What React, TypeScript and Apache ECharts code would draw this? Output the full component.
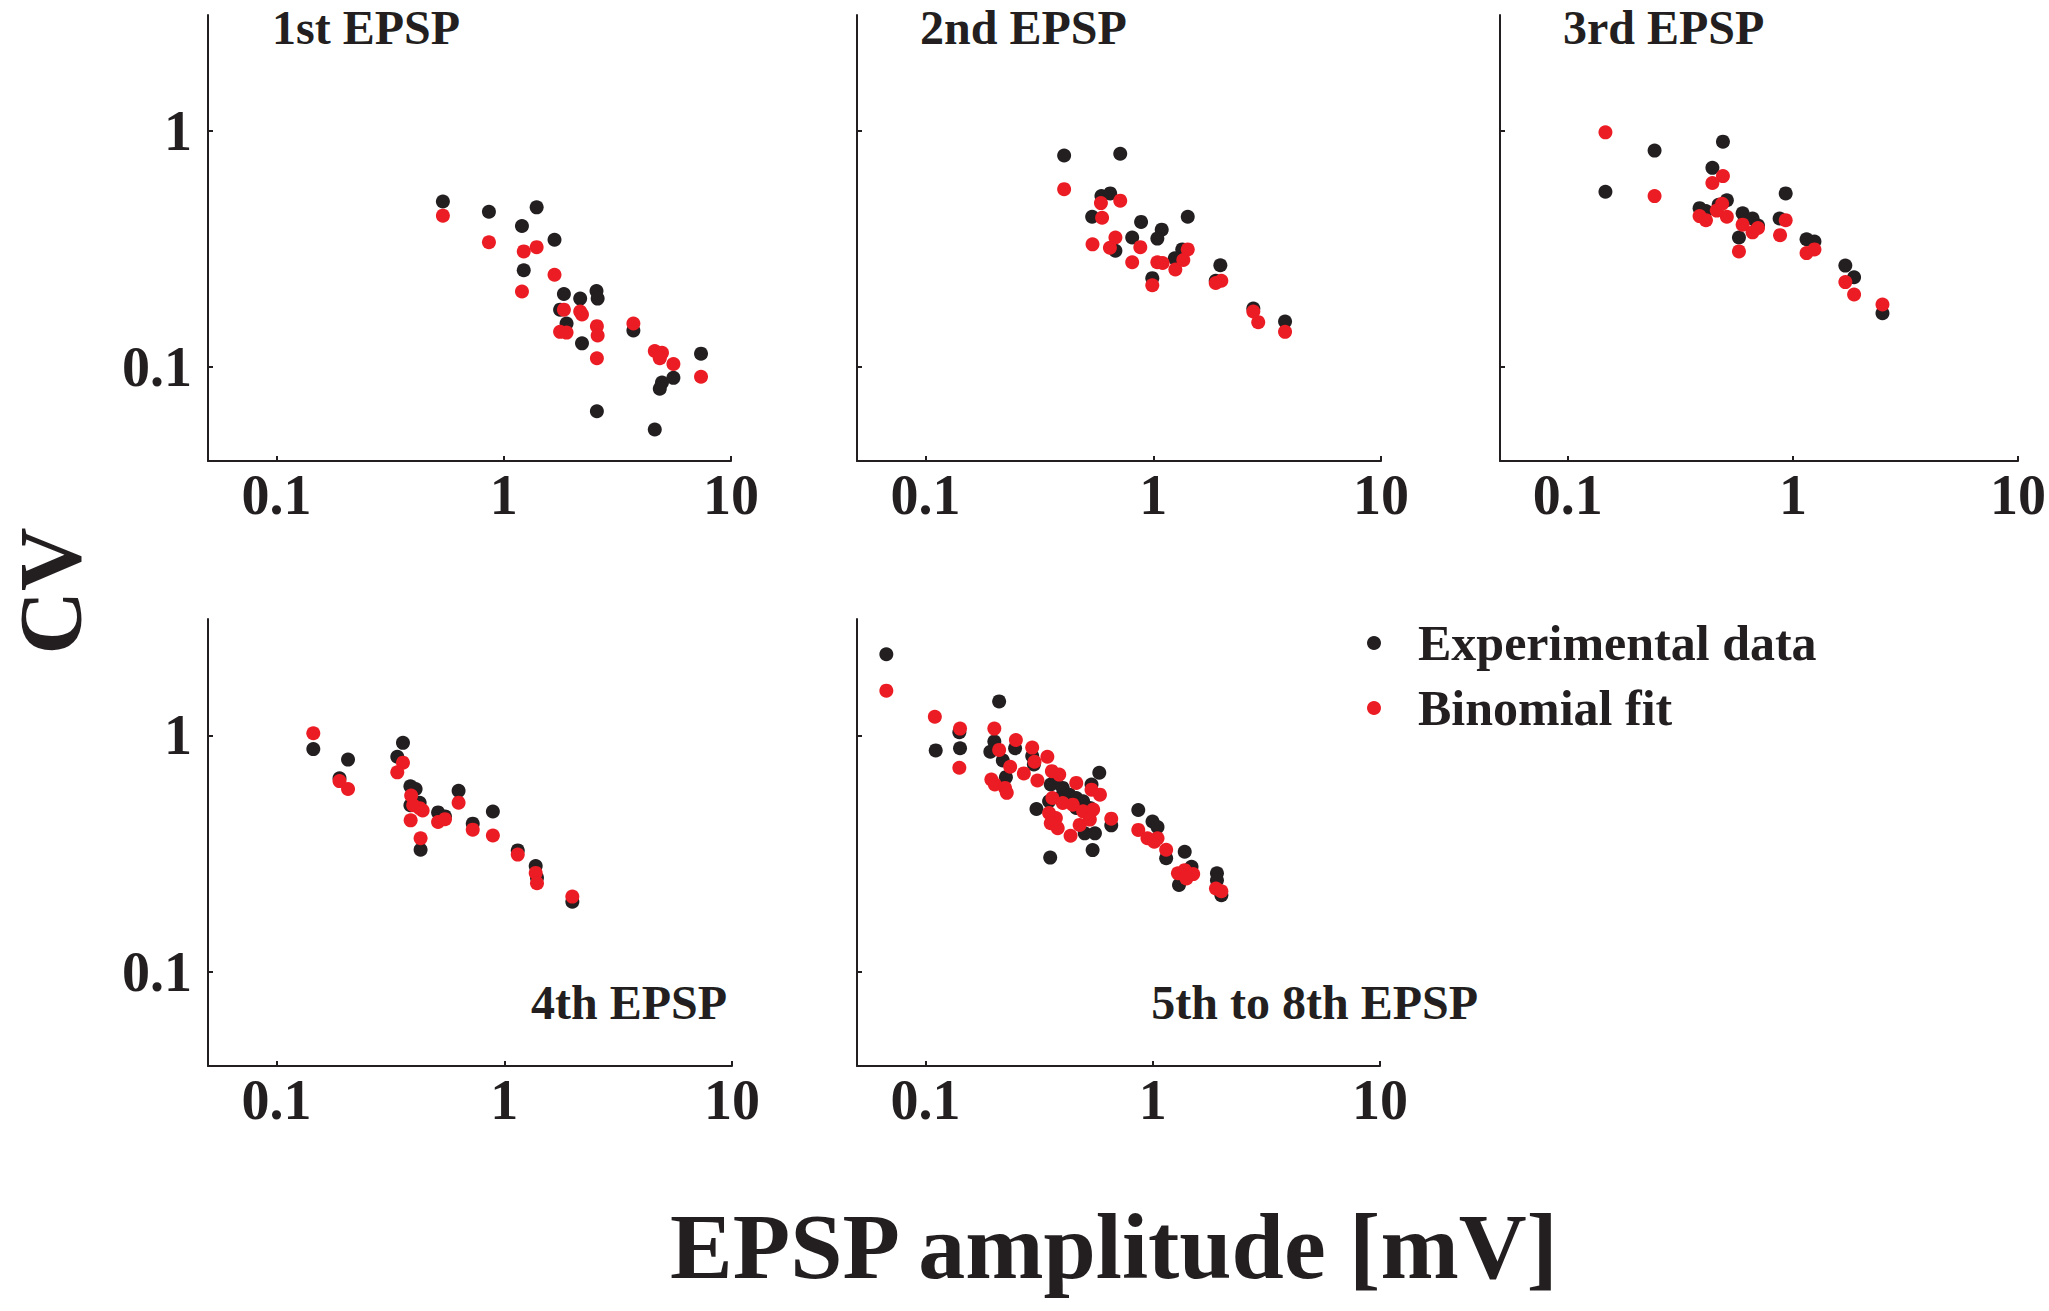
import React, { useEffect, useRef } from "react";
import * as echarts from "echarts";

const FONT = '"Liberation Serif", "Times New Roman", serif';
const INK = "#231f20";
const RED = "#ec1c24";

const SERIES_NAMES = ["Experimental data", "Binomial fit"];
const PANEL_TITLES = ["1st EPSP", "2nd EPSP", "3rd EPSP", "4th EPSP", "5th to 8th EPSP"];
const X_TICKS = [0.1, 1, 10];
const Y_TICKS = [0.1, 1];

// [EPSP amplitude (mV), CV]
const epsp1Exp = [
  [0.54, 0.503], [0.861, 0.455], [1.396, 0.475], [1.203, 0.396], [1.673, 0.346],
  [1.225, 0.257], [1.84, 0.204], [2.17, 0.195], [2.56, 0.21], [2.59, 0.195],
  [1.77, 0.175], [1.89, 0.153], [2.21, 0.126], [3.72, 0.143], [2.57, 0.065],
  [4.62, 0.0544], [4.97, 0.086], [4.86, 0.081], [5.58, 0.09], [7.38, 0.114],
];
const epsp1Fit = [
  [0.54, 0.438], [0.861, 0.338], [1.225, 0.309], [1.396, 0.322], [1.673, 0.246],
  [1.203, 0.209], [1.84, 0.175], [2.17, 0.172], [2.21, 0.167], [1.77, 0.141],
  [1.89, 0.14], [2.57, 0.149], [2.59, 0.136], [2.57, 0.109], [3.72, 0.153],
  [4.62, 0.117], [4.97, 0.115], [4.86, 0.109], [5.58, 0.103], [7.38, 0.091],
];

const epsp2Exp = [
  [0.406, 0.787], [0.716, 0.801], [0.592, 0.53], [0.647, 0.544], [0.539, 0.433],
  [0.884, 0.412], [1.417, 0.433], [1.089, 0.382], [1.042, 0.35], [0.808, 0.354],
  [0.682, 0.311], [1.34, 0.315], [1.243, 0.289], [0.99, 0.238], [1.97, 0.27],
  [1.88, 0.232], [2.75, 0.177], [3.79, 0.156],
];
const epsp2Fit = [
  [0.406, 0.567], [0.589, 0.495], [0.716, 0.507], [0.596, 0.429], [0.541, 0.331],
  [0.682, 0.354], [0.645, 0.32], [0.877, 0.322], [0.808, 0.278], [1.042, 0.278],
  [1.099, 0.276], [1.417, 0.315], [1.355, 0.284], [1.25, 0.259], [0.99, 0.222],
  [1.88, 0.227], [1.99, 0.232], [2.75, 0.172], [2.89, 0.155], [3.79, 0.141],
];

const epsp3Exp = [
  [0.147, 0.553], [0.243, 0.826], [0.489, 0.901], [0.439, 0.698], [0.385, 0.471],
  [0.411, 0.458], [0.468, 0.487], [0.509, 0.509], [0.598, 0.448], [0.662, 0.426],
  [0.7, 0.398], [0.576, 0.354], [0.929, 0.544], [0.873, 0.426], [1.15, 0.348],
  [1.247, 0.34], [1.71, 0.269], [1.87, 0.24], [2.5, 0.169],
];
const epsp3Fit = [
  [0.147, 0.987], [0.243, 0.53], [0.489, 0.644], [0.439, 0.602], [0.385, 0.436],
  [0.411, 0.419], [0.459, 0.46], [0.485, 0.492], [0.509, 0.433], [0.598, 0.401],
  [0.662, 0.372], [0.7, 0.388], [0.576, 0.309], [0.929, 0.419], [0.877, 0.362],
  [1.15, 0.304], [1.247, 0.315], [1.71, 0.229], [1.87, 0.203], [2.5, 0.184],
];

const epsp4Exp = [
  [0.145, 0.874], [0.206, 0.789], [0.189, 0.658], [0.359, 0.929], [0.339, 0.811],
  [0.387, 0.609], [0.408, 0.593], [0.387, 0.506], [0.425, 0.518], [0.429, 0.328],
  [0.512, 0.472], [0.549, 0.454], [0.63, 0.582], [0.727, 0.423], [0.891, 0.476],
  [1.146, 0.326], [1.374, 0.28], [1.392, 0.25], [1.99, 0.198],
];
const epsp4Fit = [
  [0.145, 1.02], [0.189, 0.64], [0.206, 0.593], [0.359, 0.766], [0.339, 0.697],
  [0.39, 0.556], [0.398, 0.506], [0.425, 0.492], [0.438, 0.481], [0.388, 0.437],
  [0.429, 0.367], [0.512, 0.43], [0.549, 0.442], [0.63, 0.519], [0.727, 0.399],
  [0.891, 0.377], [1.146, 0.313], [1.374, 0.262], [1.392, 0.237], [1.99, 0.208],
];

const epsp5Exp = [
  [0.0673, 2.2], [0.111, 0.863], [0.142, 0.881], [0.141, 1.03], [0.211, 1.39],
  [0.201, 0.94], [0.193, 0.852], [0.219, 0.783], [0.226, 0.665], [0.248, 0.881],
  [0.295, 0.817], [0.3, 0.753], [0.308, 0.488], [0.354, 0.304], [0.356, 0.619],
  [0.375, 0.661], [0.402, 0.599], [0.43, 0.561], [0.461, 0.543], [0.494, 0.526],
  [0.538, 0.619], [0.582, 0.694], [0.529, 0.493], [0.502, 0.385], [0.557, 0.385],
  [0.544, 0.327], [0.657, 0.416], [0.864, 0.483], [0.998, 0.432], [1.05, 0.409],
  [1.146, 0.302], [1.383, 0.322], [1.305, 0.233], [1.482, 0.278], [1.917, 0.261],
  [1.917, 0.244], [2.005, 0.211], [0.35, 0.526], [0.388, 0.543], [0.461, 0.493],
];
const epsp5Fit = [
  [0.0673, 1.543], [0.11, 1.197], [0.142, 1.067], [0.141, 0.729], [0.201, 1.067],
  [0.211, 0.867], [0.236, 0.736], [0.195, 0.65], [0.202, 0.619], [0.224, 0.599],
  [0.228, 0.571], [0.25, 0.955], [0.271, 0.69], [0.295, 0.887], [0.302, 0.773],
  [0.311, 0.644], [0.344, 0.811], [0.36, 0.705], [0.388, 0.682], [0.461, 0.629],
  [0.538, 0.589], [0.586, 0.561], [0.362, 0.543], [0.402, 0.517], [0.445, 0.509],
  [0.494, 0.477], [0.547, 0.485], [0.35, 0.469], [0.375, 0.447], [0.356, 0.425],
  [0.382, 0.405], [0.435, 0.376], [0.477, 0.418], [0.529, 0.44], [0.657, 0.444],
  [0.864, 0.398], [0.948, 0.367], [1.016, 0.355], [1.05, 0.367], [1.146, 0.328],
  [1.291, 0.261], [1.383, 0.269], [1.507, 0.259], [1.407, 0.248], [1.898, 0.225],
  [2.005, 0.219],
];

const PANEL_DATA = [
  [epsp1Exp, epsp1Fit],
  [epsp2Exp, epsp2Fit],
  [epsp3Exp, epsp3Fit],
  [epsp4Exp, epsp4Fit],
  [epsp5Exp, epsp5Fit],
];

// grid boxes (px)
const GRIDS = [
  { left: 208, top: 15, width: 523, height: 446 },
  { left: 857, top: 15, width: 524, height: 446 },
  { left: 1500, top: 15, width: 523, height: 446 },
  { left: 208, top: 619, width: 524, height: 447 },
  { left: 857, top: 619, width: 523, height: 447 },
];
const SHOW_Y_LABELS = [true, false, false, true, false];

const fmt = (v: number) => (v < 0.5 ? "0.1" : v < 5 ? "1" : "10");

export default function App() {
  const ref = useRef<HTMLDivElement>(null);

  useEffect(() => {
    if (!ref.current) return;
    const chart = echarts.init(ref.current, undefined, { renderer: "svg" });

    const axisLine = { show: true, onZero: false, lineStyle: { color: INK, width: 2 } };
    const xAxis = GRIDS.map((_, i) => ({
      type: "log",
      gridIndex: i,
      min: 0.05,
      max: 10,
      logBase: 10,
      axisLine,
      splitLine: { show: false },
      axisTick: { show: true, inside: true, length: 5, customValues: X_TICKS, lineStyle: { color: INK, width: 2 } },
      axisLabel: {
        show: true,
        customValues: X_TICKS,
        formatter: fmt,
        margin: 6,
        color: INK,
        fontFamily: FONT,
        fontWeight: "bold",
        fontSize: 56,
      },
    }));
    const yAxis = GRIDS.map((_, i) => ({
      type: "log",
      gridIndex: i,
      min: 0.04,
      max: 3.1,
      logBase: 10,
      axisLine,
      splitLine: { show: false },
      axisTick: { show: true, inside: true, length: 5, customValues: Y_TICKS, lineStyle: { color: INK, width: 2 } },
      axisLabel: {
        show: SHOW_Y_LABELS[i],
        customValues: Y_TICKS,
        formatter: fmt,
        margin: 16,
        color: INK,
        fontFamily: FONT,
        fontWeight: "bold",
        fontSize: 56,
      },
    }));

    const series: any[] = [];
    PANEL_DATA.forEach(([exp], i) => {
      series.push({
        type: "scatter",
        name: SERIES_NAMES[0],
        xAxisIndex: i,
        yAxisIndex: i,
        data: exp,
        symbol: "circle",
        symbolSize: 14,
        itemStyle: { color: INK, opacity: 1 },
        z: 2,
      });
    });
    PANEL_DATA.forEach(([, fit], i) => {
      series.push({
        type: "scatter",
        name: SERIES_NAMES[1],
        xAxisIndex: i,
        yAxisIndex: i,
        data: fit,
        symbol: "circle",
        symbolSize: 14,
        itemStyle: { color: RED, opacity: 1 },
        z: 3,
      });
    });

    const titleFont = `bold 48px ${FONT}`;
    const titlePos = [
      { x: 272, y: 27, align: "left" },
      { x: 920, y: 27, align: "left" },
      { x: 1563, y: 27, align: "left" },
      { x: 727, y: 1002, align: "right" },
      { x: 1478, y: 1002, align: "right" },
    ];

    const graphic: any[] = PANEL_TITLES.map((t, i) => ({
      type: "text",
      x: titlePos[i].x,
      y: titlePos[i].y,
      style: {
        text: t,
        font: titleFont,
        fill: INK,
        align: titlePos[i].align,
        verticalAlign: "middle",
      },
    }));
    graphic.push({
      type: "text",
      x: 50,
      y: 591,
      rotation: Math.PI / 2,
      style: { text: "CV", font: `bold 88px ${FONT}`, fill: INK, align: "center", verticalAlign: "middle" },
    });
    graphic.push({
      type: "text",
      x: 1114,
      y: 1246,
      style: {
        text: "EPSP amplitude [mV]",
        font: `bold 94px ${FONT}`,
        fill: INK,
        align: "center",
        verticalAlign: "middle",
      },
    });

    chart.setOption({
      animation: false,
      backgroundColor: "#ffffff",
      grid: GRIDS.map((g) => ({ ...g, containLabel: false })),
      xAxis,
      yAxis,
      legend: {
        data: SERIES_NAMES,
        orient: "vertical",
        left: 1367,
        top: 618,
        padding: 0,
        itemGap: 15,
        itemWidth: 14,
        itemHeight: 14,
        icon: "circle",
        selectedMode: false,
        itemStyle: { opacity: 1 },
        textStyle: {
          color: INK,
          fontFamily: FONT,
          fontWeight: "bold",
          fontSize: 50,
          lineHeight: 50,
          padding: [0, 0, 0, 32],
        },
      },
      series,
      graphic,
    });

    return () => chart.dispose();
  }, []);

  return (
    <div
      ref={ref}
      style={{ position: "fixed", left: 0, top: 0, width: "2049px", height: "1311px", background: "#fff" }}
    />
  );
}
